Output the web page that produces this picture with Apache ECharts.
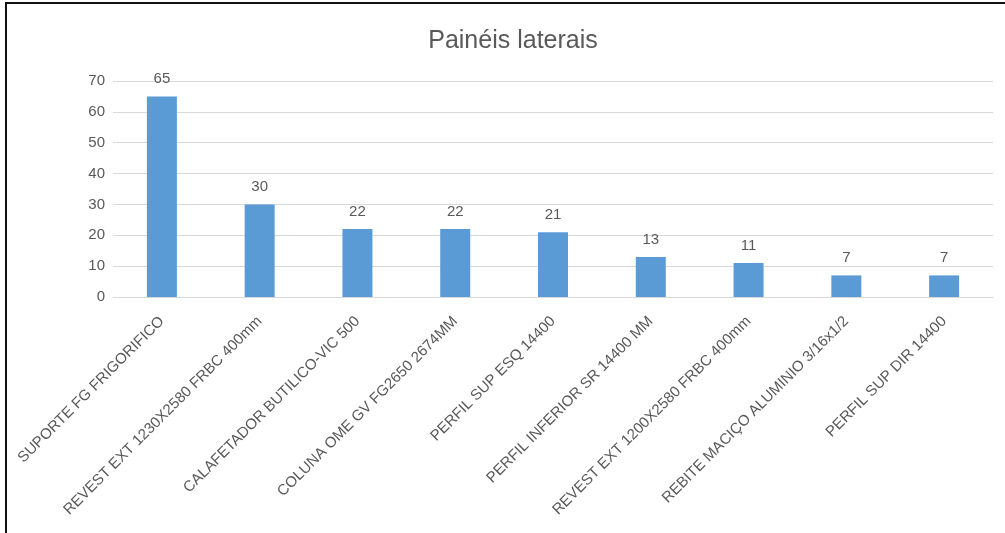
<!DOCTYPE html>
<html>
<head>
<meta charset="utf-8">
<script src="https://cdn.jsdelivr.net/npm/echarts@6/dist/echarts.min.js"></script>
<style>
  html, body { margin: 0; padding: 0; background: #fff; }
  #frame { position: absolute; left: 5px; top: 2px; width: 1005px; height: 540px;
           border-left: 2px solid #111; border-top: 2px solid #111; box-sizing: border-box; }
  #chart { position: absolute; left: 0; top: 0; width: 1005px; height: 533px; }
</style>
</head>
<body>
<div id="frame"></div>
<div id="chart"></div>
<script>
const categories = [
  'SUPORTE FG FRIGORIFICO',
  'REVEST EXT 1230X2580 FRBC 400mm',
  'CALAFETADOR BUTILICO-VIC 500',
  'COLUNA OME GV FG2650 2674MM',
  'PERFIL SUP ESQ 14400',
  'PERFIL INFERIOR SR 14400 MM',
  'REVEST EXT 1200X2580 FRBC 400mm',
  'REBITE MACIÇO ALUMINIO 3/16x1/2',
  'PERFIL SUP DIR 14400'
];
const values = [65, 30, 22, 22, 21, 13, 11, 7, 7];
const yTicks = [0, 10, 20, 30, 40, 50, 60, 70];

const font = '"Liberation Sans", "Open Sans", sans-serif';
const textColor = '#595959';

const chart = echarts.init(document.getElementById('chart'), null, { renderer: 'canvas' });
chart.setOption({
  backgroundColor: 'transparent',
  animation: false,
  title: {
    text: 'Painéis laterais',
    left: 508,
    textAlign: 'center',
    top: 24,
    textStyle: { fontFamily: font, fontSize: 25, fontWeight: 'normal', color: textColor }
  },
  grid: { left: 113, right: 12, top: 81, bottom: 236, containLabel: false },
  xAxis: {
    type: 'category',
    data: categories,
    axisLine: { lineStyle: { color: '#d9d9d9', width: 1 } },
    axisTick: { show: false },
    axisLabel: {
      rotate: 45,
      interval: 0,
      margin: 22,
      fontFamily: font,
      fontSize: 15,
      color: textColor
    }
  },
  yAxis: {
    type: 'value',
    min: yTicks[0],
    max: yTicks[yTicks.length - 1],
    interval: 10,
    axisLine: { show: false },
    axisTick: { show: false },
    splitLine: { lineStyle: { color: '#d9d9d9', width: 1 } },
    axisLabel: { fontFamily: font, fontSize: 15, color: textColor, margin: 8 }
  },
  series: [{
    type: 'bar',
    data: values,
    barWidth: 30,
    itemStyle: { color: '#5b9bd5' },
    label: {
      show: true,
      position: 'top',
      distance: 10,
      fontFamily: font,
      fontSize: 15,
      color: textColor
    }
  }]
});
</script>
</body>
</html>
